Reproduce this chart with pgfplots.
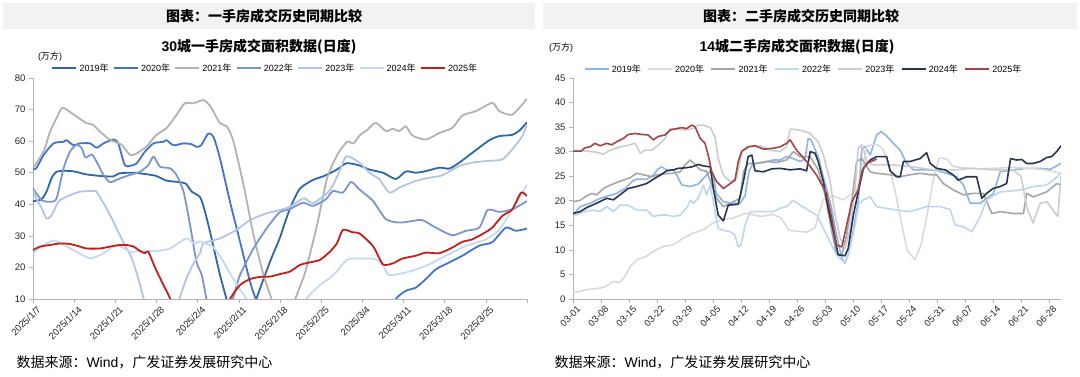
\documentclass[border=0pt]{standalone}
\usepackage{pgfplots}
\pgfplotsset{compat=1.18}
\usepackage{fontspec}
\setmainfont{Liberation Sans}
\newfontfamily\cjk{Noto Sans CJK SC}
% left colours
\definecolor{la}{RGB}{47,102,166}
\definecolor{lb}{RGB}{68,114,196}
\definecolor{lc}{RGB}{178,178,178}
\definecolor{ld}{RGB}{122,150,205}
\definecolor{le}{RGB}{178,197,230}
\definecolor{lf}{RGB}{197,217,241}
\definecolor{lg}{RGB}{192,32,28}
% right colours
\definecolor{ra}{RGB}{142,180,227}
\definecolor{rb}{RGB}{218,218,218}
\definecolor{rc}{RGB}{166,166,166}
\definecolor{rd}{RGB}{189,215,238}
\definecolor{re}{RGB}{205,205,205}
\definecolor{rf}{RGB}{38,54,82}
\definecolor{rg}{RGB}{160,70,70}
\definecolor{band}{RGB}{242,242,242}
\pgfplotsset{
  myax/.style={
    scale only axis, height=221pt,
    axis x line*=bottom, axis y line*=left,
    x axis line style={-}, y axis line style={-},
    axis line style={draw=black!30, line width=0.6pt},
    tick style={draw=black!30, line width=0.6pt},
    tick align=outside, major tick length=4pt,
    yticklabel style={font=\fontsize{9.5}{10}\selectfont, text=black!85},
    xticklabel style={font=\fontsize{9.5}{10}\selectfont, text=black!85, rotate=45, anchor=north east, inner sep=1pt, xshift=2pt, yshift=-3pt},
    /pgf/number format/assume math mode=true,
    every axis plot/.append style={line width=1.8pt, line join=round},
    legend style={draw=none, fill=none, inner sep=0pt, font=\fontsize{9}{10}\selectfont,
      /tikz/every even column/.append style={column sep=2pt}},
    legend columns=7,
    legend image code/.code={\draw[##1, line width=2.4pt] (0pt,0pt) -- (24pt,0pt);},
  }
}
\begin{document}
\begin{tikzpicture}
\useasboundingbox (0pt,0pt) rectangle (1080pt,377pt);
\fill[white] (0pt,0pt) rectangle (1080pt,377pt);
\fill[band] (3pt,348pt) rectangle (535pt,374pt);
\fill[band] (543pt,348pt) rectangle (1077pt,374pt);
\node[font=\fontsize{14}{16}\selectfont] at (264pt,361pt) {\cjk\bfseries 图表：一手房成交历史同期比较};
\node[font=\fontsize{14}{16}\selectfont] at (801pt,361pt) {\cjk\bfseries 图表：二手房成交历史同期比较};
\node[font=\fontsize{14}{16}\selectfont] at (259pt,330pt) {\bfseries 30{\cjk\bfseries 城一手房成交面积数据(日度)}};
\node[font=\fontsize{14}{16}\selectfont] at (797pt,330pt) {\bfseries 14{\cjk\bfseries 城二手房成交面积数据(日度)}};
\node[font=\fontsize{9}{10}\selectfont] at (50pt,320pt) {({\cjk 万方})};
\node[font=\fontsize{9}{10}\selectfont] at (561pt,329pt) {({\cjk 万方})};
\node[font=\fontsize{14}{16}\selectfont, anchor=west] at (13pt,15pt) {{\cjk 数据来源：}Wind{\cjk ，广发证券发展研究中心}};
\node[font=\fontsize{14}{16}\selectfont, anchor=west] at (551pt,15pt) {{\cjk 数据来源：}Wind{\cjk ，广发证券发展研究中心}};

\begin{axis}[myax, at={(33pt,78pt)}, anchor=south west, width=494pt,
  xmin=0, xmax=84, ymin=10, ymax=80, ytick={10,20,...,80},
  xtick={0,7,...,84},
  xticklabels={2025/1/7,2025/1/14,2025/1/21,2025/1/28,2025/2/4,2025/2/11,2025/2/18,2025/2/25,2025/3/4,2025/3/11,2025/3/18,2025/3/25,{}},
  legend style={at={(0.47,1)}, anchor=south, yshift=3pt},
  every axis plot/.append style={smooth, tension=0.4},
]
\addplot[la] coordinates {(0,41) (1.4,41.5) (2.3,44) (3.2,48.5) (4,50.3) (5.5,50.6) (7,50.4) (9,49.5) (11.3,49) (13.6,48.8) (14.7,49.8) (17,50) (19,49.6) (20.9,49) (22.7,47.5) (25,47) (26,46.5) (27,44) (28.4,42.3) (29.2,38) (30.1,31.3) (31,24) (31.8,17.6) (32.9,10) (34,3) (36.5,0) (37.3,3) (38,10) (40.3,21.8) (41.9,29) (43.1,35.6) (44,40) (45.4,45) (47.6,47.7) (49.4,48.9) (51.6,50.9) (53.3,53) (55.5,52.3) (57.2,51) (59.5,50) (61.7,48) (63.4,50.4) (65.1,50) (66.8,50.5) (69.1,51.6) (70.8,51.3) (72.5,53.2) (74.7,56.3) (77.6,60.3) (79.3,61.6) (81.5,62) (82.8,63.5) (84,66)};
\addlegendentry{2019{\cjk 年}}
\addplot[lb] coordinates {(0,51) (0.6,51.5) (1.8,55.6) (3.5,59.3) (5.2,59.8) (5.7,60.3) (6.9,58.7) (8,59.3) (9.7,59.3) (10.8,57.9) (12,59.3) (13.7,60.5) (14.5,59.3) (15.6,52.4) (16.5,52.2) (17.6,52.9) (19,56.6) (20.5,59.3) (22.2,59.8) (22.7,60.3) (23.9,58.7) (25.6,59.3) (27,59) (27.8,58.2) (28.6,58.7) (29.8,62.4) (30.7,61.3) (31.8,54.5) (33.5,40.8) (35.2,28.2) (36.9,15.5) (38,9.2) (39,3) (45,0) (60,0) (61,5) (61.7,10) (63.4,12.6) (65.1,13.6) (66.8,16.3) (68.5,19.4) (70.8,21.6) (73,23.7) (75.9,26.9) (78.1,28) (80.4,32.6) (82.1,31.6) (84,32.3)};
\addlegendentry{2020{\cjk 年}}
\addplot[lc] coordinates {(0,51.5) (1.8,56.7) (2.9,63) (4,67.3) (4.9,70.5) (5.7,70) (7.4,67.8) (9.1,65.7) (10.2,65.2) (11.4,63) (13.1,60.4) (15.1,58.8) (16.5,55.6) (17.6,56.1) (19.3,58.3) (21,62) (22.7,64.1) (24.4,68.3) (25.8,72) (27.3,72) (29,73) (30.2,70.9) (31.8,65.7) (33,64.6) (34.1,59.8) (35.8,46.1) (37.5,30.3) (39.2,17.6) (40.6,9.7) (41.5,3) (43.5,3) (44.6,10) (46.3,18.6) (48.3,33.4) (50,48.2) (51.7,55.5) (53.4,59.8) (54.5,59.3) (55.6,61.9) (56.8,63.5) (58.3,65.8) (60,63.2) (61.2,63.9) (62.3,63.2) (63.4,64.7) (64.5,61.8) (66.8,60.5) (69.1,62.6) (71.3,64.2) (73,68.1) (75.3,69.5) (78.1,72.1) (79.3,69.5) (81.5,68.4) (84,73.4)};
\addlegendentry{2021{\cjk 年}}
\addplot[ld] coordinates {(0,45) (1.5,41.3) (2.9,40.8) (4,41.8) (5.2,51.4) (6.3,56.7) (7.4,58.8) (8.3,57.8) (8.9,54.8) (10,55.8) (10.8,53.5) (12,49.3) (13.1,47) (14.8,48.2) (16.5,49.3) (18.2,50.3) (19.6,52.4) (20.5,55.1) (21.6,51.9) (23.3,51.4) (24.4,49.3) (25.6,44) (26.7,33.5) (27.8,21.8) (28.7,17.6) (29.5,10) (30.5,3) (33,3) (34,10) (35.2,17.6) (37.5,26) (39.7,32.3) (41.9,37.4) (43.6,38.4) (45.9,40.5) (47.6,39.5) (49.8,41.6) (51,44.2) (52.7,43.7) (54.1,47.1) (55.5,44.7) (57.8,41.1) (60,35.3) (62.3,34.2) (64.5,34.7) (66.2,35) (68.5,32.6) (71.3,30.2) (73.6,31.6) (75.9,32.6) (77.3,38.2) (79.3,37.6) (81.5,38.4) (84,41)};
\addlegendentry{2022{\cjk 年}}
\addplot[le] coordinates {(0,44.5) (0.8,41) (1.5,38.7) (2.3,35.5) (3.2,36.6) (4.3,40.8) (5.7,42.4) (8,44) (10.3,44.2) (10.8,44) (12.5,38.7) (14.2,32.4) (15.6,27.1) (16.8,22.9) (17.9,16.5) (18.8,10.2) (19.8,3) (23.5,3) (24.7,9.1) (26.1,16.5) (27.3,21.3) (28.4,24.5) (29,27.6) (31.8,29.2) (34.6,31.9) (36.9,35) (39.7,37.1) (42,38.2) (43.7,39.2) (46,41.9) (47.7,40.4) (50.5,44.5) (52,50) (53.3,55.2) (55.5,53.2) (57.2,50) (58.9,47.9) (60.6,43.7) (62.3,45.3) (65.1,47.4) (67.4,48.4) (69.6,49.2) (72.5,52.1) (74.7,53.2) (77,53.7) (79.8,54.2) (81.5,57.4) (83.2,61.6) (84,65.3)};
\addlegendentry{2023{\cjk 年}}
\addplot[lf] coordinates {(0,24.5) (2.3,27.6) (3.7,28.5) (5.2,27.1) (6.9,25.5) (9.7,22.9) (12,24.5) (14.2,27.1) (16.5,25) (18.2,25.2) (21,25.2) (23.3,26) (26.1,29.2) (27.3,27.6) (28.4,28.2) (29.5,27.5) (30.6,26.5) (32,23) (33.4,18.4) (35.1,13.2) (36.3,10) (37.5,3) (45.5,3) (46.5,10) (48.8,14.4) (51.1,17.6) (53.4,22.4) (55.5,22.8) (58.3,22.6) (59.7,20) (60.6,17.6) (63.4,18.4) (66.8,20.5) (70.2,23.7) (73.6,26.8) (77,28.9) (79.3,32) (81.5,38.4) (83,43) (84,46.3)};
\addlegendentry{2024{\cjk 年}}
\addplot[lg] coordinates {(0,25.5) (1.2,26.6) (2.9,27.1) (4.6,27.6) (6.3,27.4) (8,26.6) (9.1,26) (11.4,26) (13.1,26.6) (14.8,27.1) (15.9,27.1) (17.1,26.6) (18.2,25.2) (19,24.5) (19.6,25) (20.7,20.2) (21.9,15.5) (23.3,10.2) (24.2,5) (32.5,5) (33.5,10) (35.2,14.4) (36.9,16.3) (38.6,17) (40.3,17.1) (42,17.9) (43.7,18.7) (45.4,20.8) (47.1,21.6) (48.8,22.4) (50.5,25) (51.7,27.7) (52.7,31.9) (54.4,31.1) (55.5,30.8) (57.8,26.8) (59.5,21) (61.2,21.3) (62.8,22.8) (65.1,23.7) (66.8,24.7) (69.1,24.5) (71.3,26.3) (73,28.1) (74.7,28.9) (77,31.2) (78.1,32.6) (79.8,36.3) (81.5,38.4) (83,43.7) (84,42.6)};
\addlegendentry{2025{\cjk 年}}
\end{axis}

\begin{axis}[myax, at={(573pt,78pt)}, anchor=south west, width=488pt,
  xmin=0, xmax=122, ymin=0, ymax=45, ytick={0,5,...,45},
  xtick={0,7,...,119},
  xticklabels={03-01,03-08,03-15,03-22,03-29,04-05,04-12,04-19,04-26,05-03,05-10,05-17,05-24,05-31,06-07,06-14,06-21,06-28},
  legend style={at={(0.472,1)}, anchor=south, yshift=2pt, /tikz/every even column/.append style={column sep=4pt}},
  every axis plot/.append style={line width=1.6pt},
]
\addplot[ra] coordinates {(0,17.1) (1.8,18.8) (4.3,19.5) (6.8,20.5) (8.8,21) (10.9,21.5) (13,22.5) (14.7,23.9) (15.9,24.4) (18.4,24.4) (20.1,25.2) (21.3,26.5) (22.2,26.9) (23.4,26.3) (25.1,26.3) (25.9,25.3) (27.2,23.2) (29.3,22.9) (31.3,23.4) (33,24.9) (34.3,26) (35,25.5) (35.8,21.5) (37.6,19.8) (40,19.5) (41.8,19.5) (43,21) (44,26) (45,27.6) (47.6,27.8) (50,28.3) (51.8,28.3) (53.4,29) (55,28.6) (56.8,28) (58,28.5) (58.8,32.7) (59.5,32.4) (60.5,30.5) (61.5,28.5) (62.5,25) (64.3,19.8) (65.7,13.7) (67.2,8.3) (68,7.3) (68.8,9) (70,13.7) (71.3,19.8) (72.2,30.7) (73,31) (74.3,29.3) (75.9,33.4) (77,34.1) (78.4,33.2) (80.1,31.7) (81.8,30.3) (83.4,27.6) (85.1,26.3) (88,26.3) (91,26.2) (93.4,25.6) (95.9,24.9) (97.6,23.2) (99.3,19.5) (101.8,19.5) (103.5,20.5) (105.1,21.5) (106.8,25.9) (110.1,26.3) (113.4,26.6) (116.8,26.6) (119.3,26.4) (122,27.6)};
\addlegendentry{2019{\cjk 年}}
\addplot[rb] coordinates {(0,1.2) (3.4,1.9) (6.7,2.2) (8.4,2.6) (10,3.6) (11.7,3.4) (13,4.6) (14.3,6.6) (16,8) (18.4,8.7) (20,9.7) (22.6,10.7) (25,11) (27.6,12.4) (30,13.4) (32.6,14.1) (35,15.5) (37.6,16.2) (40,16.5) (43.4,17.5) (46.8,16.8) (50,17.2) (52,16.5) (54,14) (56,13.8) (58.5,13.6) (60.5,14.5) (62.5,20.2) (65,21) (67.6,20.2) (69.3,21.2) (70.9,21.9) (72.6,27.6) (73.4,31) (74.5,31.4) (76,31.5) (77.5,30.5) (79,27) (80.5,22) (82,16) (83.5,10) (85.5,8) (87,11) (88.5,17) (90,24) (91.5,28.7) (93.5,28.5) (95,27) (97.6,26.7) (101,26.5) (105,26.6) (110,26.8) (114,26.6) (118,26.3) (122,25.6)};
\addlegendentry{2020{\cjk 年}}
\addplot[rc] coordinates {(0,19.8) (1.8,20.1) (3.4,21) (4.7,21.5) (5.9,21.2) (7.6,22.5) (9.3,23.2) (11.8,24) (14.3,24.7) (15.9,25.6) (17.6,25.3) (19.7,24.9) (21.3,25.3) (23,25.5) (25,25.6) (26.8,25.9) (28,27.3) (29.3,28.3) (30.5,27.4) (31.8,26.3) (33.4,26) (34.7,23.2) (35.9,20.5) (37.6,18.8) (40,19.8) (41.8,20.5) (42.6,25.9) (43.8,27.6) (45.9,27.6) (48.4,28) (50.9,27.8) (53.4,28.3) (55.1,30) (56.8,29) (59.3,29) (61.3,26.3) (63,21.2) (64.7,13.7) (65.9,9) (67.2,9) (68.4,13) (69.7,19.8) (70.9,28) (72.2,28.6) (74.3,25.9) (75.9,25.6) (79.3,25.3) (81.8,24.9) (84.3,25.3) (86.8,25.6) (89.3,25.3) (90.9,25.3) (92.6,23.5) (95.1,22.2) (97.6,21.2) (100.1,21.5) (102.6,21.5) (104.7,17.4) (106.8,17.8) (110.1,17.4) (112.6,17.4) (113.4,21.5) (115.1,20.8) (118.4,21.8) (120.9,23.5) (122,23.2)};
\addlegendentry{2021{\cjk 年}}
\addplot[rd] coordinates {(0,16.8) (2.6,17.8) (5.1,18.1) (6.8,17.8) (8.4,18.8) (10.1,17.8) (11.8,19.1) (13.8,19.1) (15.9,18.1) (18.4,18.1) (20.1,16.8) (21.8,17.1) (23.4,17.1) (25.1,16.8) (26.8,17.1) (28.4,18.5) (29.3,20.1) (30.1,19.5) (31.3,20.5) (32.6,23.2) (33.4,21.2) (34.3,23.2) (35.1,19.8) (36.3,14.4) (37.6,14) (39.3,13.7) (40.5,13) (41.3,10.6) (42,11) (43,15) (44.3,17.8) (47.6,17.8) (50.1,17.8) (51.8,18.5) (53.4,18.8) (55,20.1) (57,19) (59,18) (61,17) (62.5,14.5) (64,12) (65.5,9.5) (67,8) (68,7.5) (69,9.5) (70.5,15) (71.5,19.5) (72.6,20.2) (74.3,20.8) (75.9,18.8) (80.1,18.2) (84.3,17.8) (88.4,18.8) (91.8,18.8) (94.3,18.2) (95.5,15.1) (97.6,14.7) (99.7,13.7) (101.8,16.8) (103.4,20.2) (106.8,21.8) (111.8,22.2) (115.1,22.9) (118.4,23.2) (120.1,24.2) (122,25.6)};
\addlegendentry{2022{\cjk 年}}
\addplot[re] coordinates {(0,30.3) (3.4,30.1) (5.9,29.9) (7.6,29.5) (9.3,30.3) (11.8,31) (13.8,31.3) (15.5,31.7) (16.8,29.7) (18,30.3) (19.7,30.3) (21.3,31.3) (23,32.7) (24.3,34.7) (25.9,34.6) (28,34.4) (30.1,34.7) (31.3,35.4) (32.6,35.4) (34.3,34.9) (35.5,33) (36.3,28.6) (37.6,25.2) (39.3,23.9) (40.9,24.5) (42.2,30) (44.3,31) (46.8,31.2) (49.3,30.3) (51.8,30) (53.4,31) (54.3,34.6) (56.8,34.4) (59.3,33.7) (61.3,32) (62.6,29.3) (64.3,23.9) (65.5,17.1) (66.8,12.4) (68,10.3) (69.3,14.4) (70.5,22.5) (71.3,30.7) (72.2,31.4) (73.5,28) (75,27.3) (80,27.3) (85,26.9) (90,26.3) (95,26.3) (100,26.6) (105,26.3) (110,26.3) (112,25) (113.5,18.5) (115,15.5) (116.8,19.5) (118.5,19.8) (120.5,17.5) (121.2,16.8) (122,25)};
\addlegendentry{2023{\cjk 年}}
\addplot[rf] coordinates {(0,17.4) (1.8,17.8) (3.4,18.6) (5.9,19.5) (8.4,20.5) (10.1,20.2) (12.2,21.5) (13.8,22.5) (15.9,22.9) (18.4,23.5) (20.5,24.6) (21.8,25.2) (23.4,26.1) (25.1,26.3) (26.3,26.6) (28,26.7) (29.7,26.9) (31.3,27.4) (32.6,27.1) (34.3,26.9) (35.1,22.5) (36.3,17.1) (37.6,15.9) (38.8,19.1) (41.3,19.3) (42.6,23.9) (43.8,29) (44.7,29.3) (45.5,26.1) (47.6,25.9) (49.7,26.5) (51.8,26.6) (54.3,26.3) (56.8,26.5) (58.4,26.1) (59.3,30) (60.5,29.7) (61.3,28) (62.6,23.9) (63.8,18.5) (65.1,13.7) (66.3,9) (68,8.8) (68.8,10.3) (70.1,17.1) (71.3,21.8) (72.6,26.6) (74.3,28.3) (75.9,29) (78.4,29) (79.3,26.1) (80.9,24.9) (81.8,24.9) (82.6,28) (84.3,28) (85.5,28.3) (86.8,28.6) (88.4,29.8) (89.3,27.6) (90.9,26.6) (93,26.3) (95,25.3) (96.3,24.2) (98.4,24.9) (100.9,24.9) (102.2,20.5) (103.4,21.5) (105,22.5) (106.8,22.9) (108.4,23.5) (109.4,28.6) (110.9,28.3) (112.2,28.4) (113.4,27.6) (115,27.6) (116.8,28) (118.4,28.8) (119.7,29) (120.9,30) (122,31.2)};
\addlegendentry{2024{\cjk 年}}
\addplot[rg] coordinates {(0,30.1) (2,30.1) (3,30.8) (4.3,31) (5.5,31.7) (6.8,31.2) (8.4,31.7) (9.7,31.4) (10.9,32) (12.6,32.7) (13.8,33.5) (15.5,33.7) (17.2,33.5) (18.8,33.4) (20.1,32.4) (21.3,33.1) (23,33.4) (24.3,34.4) (25.9,34.7) (27.2,34.9) (28.4,34.7) (29.7,35.4) (30.5,35.1) (31.8,32.7) (33,31.7) (33.8,29.3) (34.7,25.9) (35.9,23.9) (37.6,22.5) (39.3,23.5) (40.5,24.2) (41.3,28) (42.2,30.1) (43.8,31) (45.5,31.2) (47.6,30.5) (50.1,30.7) (51.8,31) (53.4,31.7) (54.3,32.4) (55.9,30.3) (58.4,28) (60.9,25.2) (63.4,21.5) (64.7,16.4) (65.9,11) (67.2,10.6) (68.4,15) (69.7,19.8) (71.3,22.2) (72.2,25.9) (73.4,27.6) (75.9,28.5)};
\addlegendentry{2025{\cjk 年}}
\end{axis}
\end{tikzpicture}
\end{document}
